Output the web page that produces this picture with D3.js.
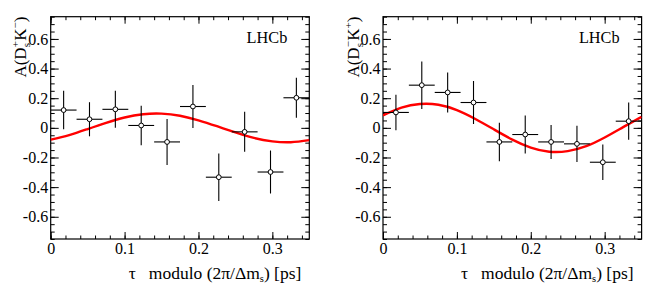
<!DOCTYPE html>
<html>
<head>
<meta charset="utf-8">
<script src="https://cdn.jsdelivr.net/npm/d3@7"></script>
<style>
  body { margin: 0; background: #fff; }
  svg text { font-family: "Liberation Serif", "Times New Roman", Times, "DejaVu Serif", serif; fill: #000; }
</style>
</head>
<body>
<div id="chart"></div>
<script>
const width = 664, height = 287;

// bin centres of the folded decay time, in ps (10 bins over 2pi/dms)
const binCenters = [0.0175, 0.0525, 0.0875, 0.1225, 0.1575, 0.1925, 0.2275, 0.2625, 0.2975, 0.3325];
const binHalfWidth = 0.0175;

// A(Ds+ K-)
const leftValues = [0.120, 0.058, 0.125, 0.016, -0.095, 0.144, -0.333, -0.027, -0.298, 0.203];
const leftErrors = [0.130, 0.115, 0.125, 0.133, 0.155, 0.145, 0.160, 0.135, 0.145, 0.135];

// A(Ds- K+)
const rightValues = [0.104, 0.288, 0.239, 0.171, -0.095, -0.045, -0.095, -0.108, -0.232, 0.045];
const rightErrors = [0.120, 0.160, 0.135, 0.145, 0.130, 0.128, 0.115, 0.123, 0.120, 0.126];

// fitted curves
const curveT = [0, 0.025, 0.05, 0.075, 0.1, 0.125, 0.15, 0.175, 0.2, 0.225, 0.25, 0.275, 0.3, 0.325, 0.35];
const leftCurve = [-0.080, -0.049, -0.008, 0.034, 0.070, 0.092, 0.096, 0.082, 0.051, 0.011, -0.031, -0.068, -0.091, -0.097, -0.083];
const rightCurve = [0.084, 0.136, 0.161, 0.156, 0.120, 0.060, -0.010, -0.079, -0.133, -0.161, -0.157, -0.124, -0.065, 0.005, 0.075];

const xMajor = [0, 0.1, 0.2, 0.3];
const xTickLabels = ['0', '0.1', '0.2', '0.3'];
const yMajor = [-0.6, -0.4, -0.2, 0, 0.2, 0.4, 0.6];
const yTickLabels = ['-0.6', '-0.4', '-0.2', '0', '0.2', '0.4', '0.6'];

const svg = d3.select('#chart')
  .append('svg')
    .attr('width', width)
    .attr('height', height);

function drawPanel(id, left, values, errors, curve, dSign, kSign) {
  const top = 16.7, bottom = 239, w = 258.6;
  const x = d3.scaleLinear().domain([0, 0.35]).range([left, left + w]);
  const y = d3.scaleLinear().domain([-0.75, 0.75]).range([bottom, top]);
  const g = svg.append('g');

  const xMinor = d3.range(0, 0.351, 0.02);
  const yMinor = d3.range(-0.75, 0.751, 0.05);

  // minor ticks on all four sides, pointing inwards
  g.append('g').attr('transform', `translate(0,${bottom})`)
    .call(d3.axisBottom(x).tickValues(xMinor).tickSize(-3.5).tickFormat(''));
  g.append('g').attr('transform', `translate(0,${top})`)
    .call(d3.axisTop(x).tickValues(xMinor).tickSize(-3.5).tickFormat(''));
  g.append('g').attr('transform', `translate(${left},0)`)
    .call(d3.axisLeft(y).tickValues(yMinor).tickSize(-4).tickFormat(''));
  g.append('g').attr('transform', `translate(${left + w},0)`)
    .call(d3.axisRight(y).tickValues(yMinor).tickSize(-4).tickFormat(''));

  // major ticks
  const xb = g.append('g').attr('transform', `translate(0,${bottom})`)
    .call(d3.axisBottom(x).tickValues(xMajor).tickSize(-7).tickPadding(4)
      .tickFormat((d, i) => xTickLabels[i]));
  g.append('g').attr('transform', `translate(0,${top})`)
    .call(d3.axisTop(x).tickValues(xMajor).tickSize(-7).tickFormat(''));
  const yl = g.append('g').attr('transform', `translate(${left},0)`)
    .call(d3.axisLeft(y).tickValues(yMajor).tickSize(-8).tickPadding(2.5)
      .tickFormat((d, i) => yTickLabels[i]));
  g.append('g').attr('transform', `translate(${left + w},0)`)
    .call(d3.axisRight(y).tickValues(yMajor).tickSize(-8).tickFormat(''));

  g.selectAll('.domain').remove();
  g.selectAll('.tick line').attr('stroke', '#000').attr('stroke-width', 1);
  xb.attr('font-family', null).attr('font-size', 16);
  yl.attr('font-family', null).attr('font-size', 16);
  g.selectAll('.tick text').attr('fill', '#000');

  // frame
  g.append('rect')
    .attr('x', left).attr('y', top)
    .attr('width', w).attr('height', bottom - top)
    .attr('fill', 'none').attr('stroke', '#000').attr('stroke-width', 1.2);

  // fit curve
  g.append('clipPath').attr('id', id)
    .append('rect').attr('x', left).attr('y', top).attr('width', w).attr('height', bottom - top);
  const line = d3.line()
    .x((d, i) => x(curveT[i]))
    .y(d => y(d))
    .curve(d3.curveNatural);
  g.append('path')
    .datum(curve)
    .attr('clip-path', `url(#${id})`)
    .attr('d', line)
    .attr('fill', 'none')
    .attr('stroke', '#ff0000')
    .attr('stroke-width', 2.4);

  // data points with error bars
  const pts = g.selectAll('.pt')
    .data(values.map((v, i) => ({ c: binCenters[i], v: v, e: errors[i] })))
    .enter().append('g').attr('class', 'pt');
  pts.append('line')
    .attr('x1', d => x(d.c - binHalfWidth)).attr('x2', d => x(d.c + binHalfWidth))
    .attr('y1', d => y(d.v)).attr('y2', d => y(d.v))
    .attr('stroke', '#000').attr('stroke-width', 1.1);
  pts.append('line')
    .attr('x1', d => x(d.c)).attr('x2', d => x(d.c))
    .attr('y1', d => y(d.v - d.e)).attr('y2', d => y(d.v + d.e))
    .attr('stroke', '#000').attr('stroke-width', 1.1);
  pts.append('circle')
    .attr('cx', d => x(d.c)).attr('cy', d => y(d.v))
    .attr('r', 2.4)
    .attr('fill', '#fff').attr('stroke', '#000').attr('stroke-width', 1);

  // LHCb label
  g.append('text')
    .attr('x', left + w - 22).attr('y', 42.7)
    .attr('text-anchor', 'end')
    .attr('font-size', 16.3)
    .text('LHCb');

  // x title
  const xt = g.append('text')
    .attr('x', left + w - 8).attr('y', 279)
    .attr('text-anchor', 'end')
    .attr('font-size', 17.5);
  xt.append('tspan').text('τ');
  xt.append('tspan').attr('dx', 13).text('modulo (2π/Δm');
  xt.append('tspan').attr('dy', 3).attr('font-size', 10.5).text('s');
  xt.append('tspan').attr('dy', -3).text(') [ps]');

  // y title, rotated
  const yt = g.append('text')
    .attr('transform', `translate(${left - 24.5},${top}) rotate(-90)`)
    .attr('text-anchor', 'end')
    .attr('font-size', 17);
  yt.append('tspan').text('A(D');
  yt.append('tspan').attr('dy', -7).attr('font-size', 11).text(dSign);
  yt.append('tspan').attr('dx', -6).attr('dy', 11).attr('font-size', 11).text('s');
  yt.append('tspan').attr('dx', 2).attr('dy', -4).text('K');
  yt.append('tspan').attr('dy', -7).attr('font-size', 11).text(kSign);
  yt.append('tspan').attr('dy', 7).text(')');
}

drawPanel('clipL', 50.7, leftValues, leftErrors, leftCurve, '+', '−');
drawPanel('clipR', 383, rightValues, rightErrors, rightCurve, '−', '+');
</script>
</body>
</html>
